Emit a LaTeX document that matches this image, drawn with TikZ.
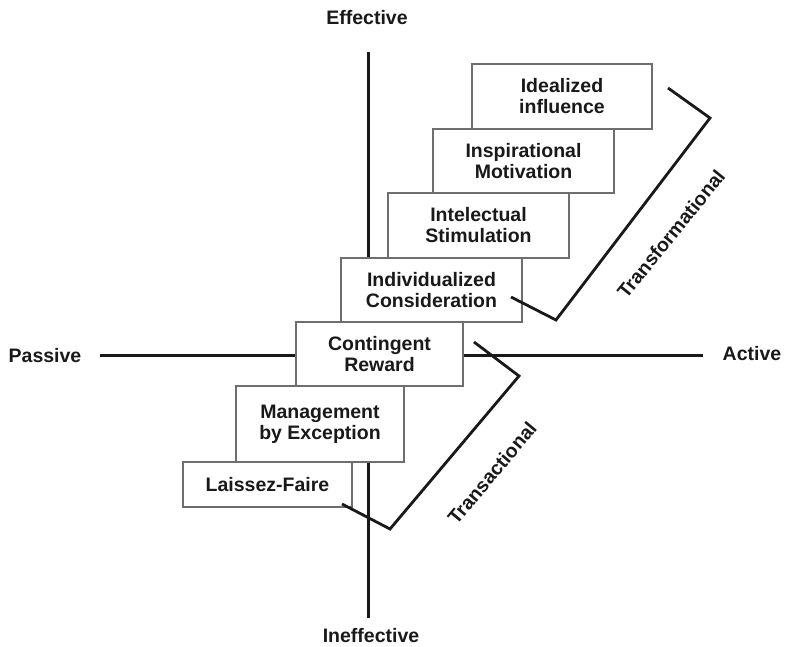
\documentclass[tikz,border=0pt]{standalone}
\usepackage{fontspec}
\setmainfont{Liberation Sans}
\usetikzlibrary{positioning}
\definecolor{BoxGray}{RGB}{110,110,110}
\definecolor{InkBlack}{RGB}{25,25,25}
\tikzset{
  stair/.style={draw=BoxGray,fill=white,line width=1.3pt,minimum width=181pt,
    minimum height=64pt,inner sep=0pt,outer sep=0pt,align=center,anchor=south west,
    text=InkBlack,font=\fontsize{19.5}{21}\selectfont\bfseries},
  axis/.style={line width=3pt,InkBlack},
  brace/.style={line width=2.8pt,InkBlack,line join=miter},
  axislabel/.style={font=\fontsize{19.5}{21}\selectfont\bfseries,text=InkBlack}
}
\begin{document}
\begin{tikzpicture}[x=1pt,y=1pt]
      \useasboundingbox (0,0) rectangle (793,646);
      \node[axislabel] (effective) at (367,628) {Effective};
      \node[axislabel] (ineffective) at (371,10) {Ineffective};
      \node[axislabel] (passive) at (45,290) {Passive};
      \node[axislabel] (active) at (752,292) {Active};
      \coordinate (top) at (368,594);
      \coordinate (bottom) at (368,28);
      \coordinate (left) at (100,290);
      \coordinate (right) at (703,290);
      \draw[axis] (top) -- (bottom);
      \draw[axis] (left) -- (right);
      \node[stair,minimum width=169pt,minimum height=45pt] (laissez) at (183,139) {Laissez-Faire};
      \node[stair,minimum width=168pt,minimum height=76pt] (exception) at ([xshift=53pt]laissez.north west) {Management\\by Exception};
      \node[stair,minimum width=167pt] (reward) at ([xshift=60pt]exception.north west) {Contingent\\Reward};
      \node[stair] (consideration) at ([xshift=45pt]reward.north west) {Individualized\\Consideration};
      \node[stair,minimum height=65pt] (stimulation) at ([xshift=47pt]consideration.north west) {Intelectual\\Stimulation};
      \node[stair] (motivation) at ([xshift=45pt]stimulation.north west) {Inspirational\\Motivation};
      \node[stair,minimum width=180pt,minimum height=65pt] (influence) at ([xshift=39pt]motivation.north west) {Idealized\\influence};
      \draw[brace] (668,558) -- (710,528) -- (556,326) -- (511,349);
      \draw[brace] (474,304) -- (519,270) -- (390,117) -- (342,142);
      \node[axislabel,rotate=51] (transformational) at (671,412) {Transformational};
      \node[axislabel,rotate=50] (transactional) at (492,173) {Transactional};
    \end{tikzpicture}
\end{document}
